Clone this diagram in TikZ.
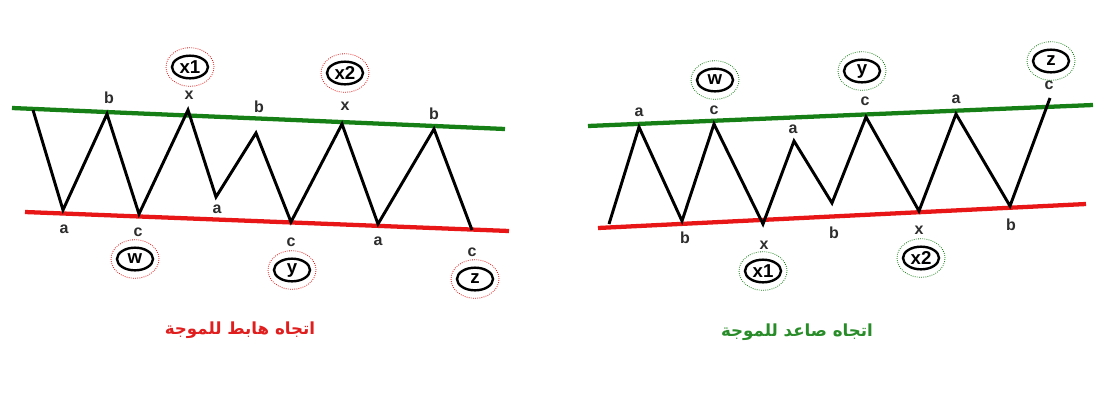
\documentclass[tikz,border=0pt]{standalone}
\usepackage{fontspec}
\setmainfont{Liberation Sans}
\newfontfamily\arabicfont[Script=Arabic]{DejaVu Sans}
\usetikzlibrary{shapes.geometric}
\TeXXeTstate=1
\definecolor{chgreen}{RGB}{22,128,22}
\definecolor{chred}{RGB}{232,22,22}
\definecolor{ttgreen}{RGB}{40,140,40}
\definecolor{ttred}{RGB}{225,30,30}
\definecolor{lblgray}{RGB}{45,45,45}
\newcommand\ringlab[4]{%
  \node[outring, draw=#4] (#1o) at #2 {};
  \node[inring] (#1) at #2 {#3};}
\begin{document}
\begin{tikzpicture}[x=0.75pt,y=-0.75pt,
  wave/.style={line width=2.2pt, black, line join=miter},
  upper/.style={line width=3.2pt, chgreen},
  lower/.style={line width=3.2pt, chred},
  lbl/.style={font=\bfseries\fontsize{12}{14}\selectfont, text=lblgray, inner sep=0pt},
  inring/.style={ellipse, draw=black, line width=1.8pt, minimum width=27pt, minimum height=17pt, inner sep=0pt, font=\bfseries\fontsize{14}{16}\selectfont},
  outring/.style={ellipse, line width=0.6pt, densely dotted, minimum width=36pt, minimum height=29pt, inner sep=0pt},
  title/.style={font=\arabicfont\bfseries\fontsize{12.5}{14}\selectfont, inner sep=0pt}]
\fill[white] (0,0) rectangle (1100,412);
\useasboundingbox (0,0) rectangle (1100,412);
% ---------- left: falling ----------
\coordinate (LG1) at (12,108);  \coordinate (LG2) at (505,129);
\coordinate (LR1) at (25,212);  \coordinate (LR2) at (509,231);
\draw[upper] (LG1) -- (LG2);
\draw[lower] (LR1) -- (LR2);
\coordinate (L0) at (33,110);
\coordinate (La1) at (63,210);
\coordinate (Lb1) at (107,114);
\coordinate (Lc1) at (139,214);
\coordinate (Lx1) at (188,110);
\coordinate (La2) at (216,197);
\coordinate (Lb2) at (256,133);
\coordinate (Lc2) at (291,222);
\coordinate (Lx2) at (342,124);
\coordinate (La3) at (378,224);
\coordinate (Lb3) at (434,129);
\coordinate (Lc3) at (472,230);
\draw[wave] (L0) -- (La1) -- (Lb1) -- (Lc1) -- (Lx1) -- (La2) -- (Lb2) -- (Lc2) -- (Lx2) -- (La3) -- (Lb3) -- (Lc3);
\node[lbl] (tLb1) at (109,98) {b};
\node[lbl] (tLx1) at (189,95) {x};
\node[lbl] (tLb2) at (259,107) {b};
\node[lbl] (tLx2) at (345,106) {x};
\node[lbl] (tLb3) at (434,114) {b};
\node[lbl] (tLa1) at (64,229) {a};
\node[lbl] (tLc1) at (138,232) {c};
\node[lbl] (tLa2) at (217,209) {a};
\node[lbl] (tLc2) at (291,242) {c};
\node[lbl] (tLa3) at (378,241) {a};
\node[lbl] (tLc3) at (472,252) {c};
\ringlab{RLx1}{(190,67)}{x1}{chred}
\ringlab{RLx2}{(345,73)}{x2}{chred}
\ringlab{RLw}{(135,259)}{w}{chred}
\ringlab{RLy}{(292,270)}{y}{chred}
\ringlab{RLz}{(475,279)}{z}{chred}
\node[title, text=ttred] (TL) at (240,330) {\beginR اتجاه هابط للموجة\endR};
% ---------- right: rising ----------
\coordinate (RG1) at (588,126); \coordinate (RG2) at (1093,105);
\coordinate (RR1) at (598,228); \coordinate (RR2) at (1086,204);
\draw[upper] (RG1) -- (RG2);
\draw[lower] (RR1) -- (RR2);
\coordinate (R0) at (609,224);
\coordinate (Ra1) at (639,127);
\coordinate (Rb1) at (682,221);
\coordinate (Rc1) at (714,124);
\coordinate (Rx1) at (763,224);
\coordinate (Ra2) at (794,141);
\coordinate (Rb2) at (832,203);
\coordinate (Rc2) at (866,117);
\coordinate (Rx2) at (919,211);
\coordinate (Ra3) at (956,114);
\coordinate (Rb3) at (1010,206);
\coordinate (Rc3) at (1050,98);
\draw[wave] (R0) -- (Ra1) -- (Rb1) -- (Rc1) -- (Rx1) -- (Ra2) -- (Rb2) -- (Rc2) -- (Rx2) -- (Ra3) -- (Rb3) -- (Rc3);
\node[lbl] (tRa1) at (639,112) {a};
\node[lbl] (tRc1) at (714,110) {c};
\node[lbl] (tRa2) at (793,129) {a};
\node[lbl] (tRc2) at (865,101) {c};
\node[lbl] (tRa3) at (956,99) {a};
\node[lbl] (tRc3) at (1049,85) {c};
\node[lbl] (tRb1) at (685,238) {b};
\node[lbl] (tRx1) at (764,245) {x};
\node[lbl] (tRb2) at (834,233) {b};
\node[lbl] (tRx2) at (919,230) {x};
\node[lbl] (tRb3) at (1011,225) {b};
\ringlab{RRw}{(715,80)}{w}{chgreen}
\ringlab{RRy}{(862,71)}{y}{chgreen}
\ringlab{RRz}{(1051,61)}{z}{chgreen}
\ringlab{RRx1}{(763,271)}{x1}{chgreen}
\ringlab{RRx2}{(921,258)}{x2}{chgreen}
\node[title, text=ttgreen] (TR) at (797,332) {\beginR اتجاه صاعد للموجة\endR};
\end{tikzpicture}
\end{document}
